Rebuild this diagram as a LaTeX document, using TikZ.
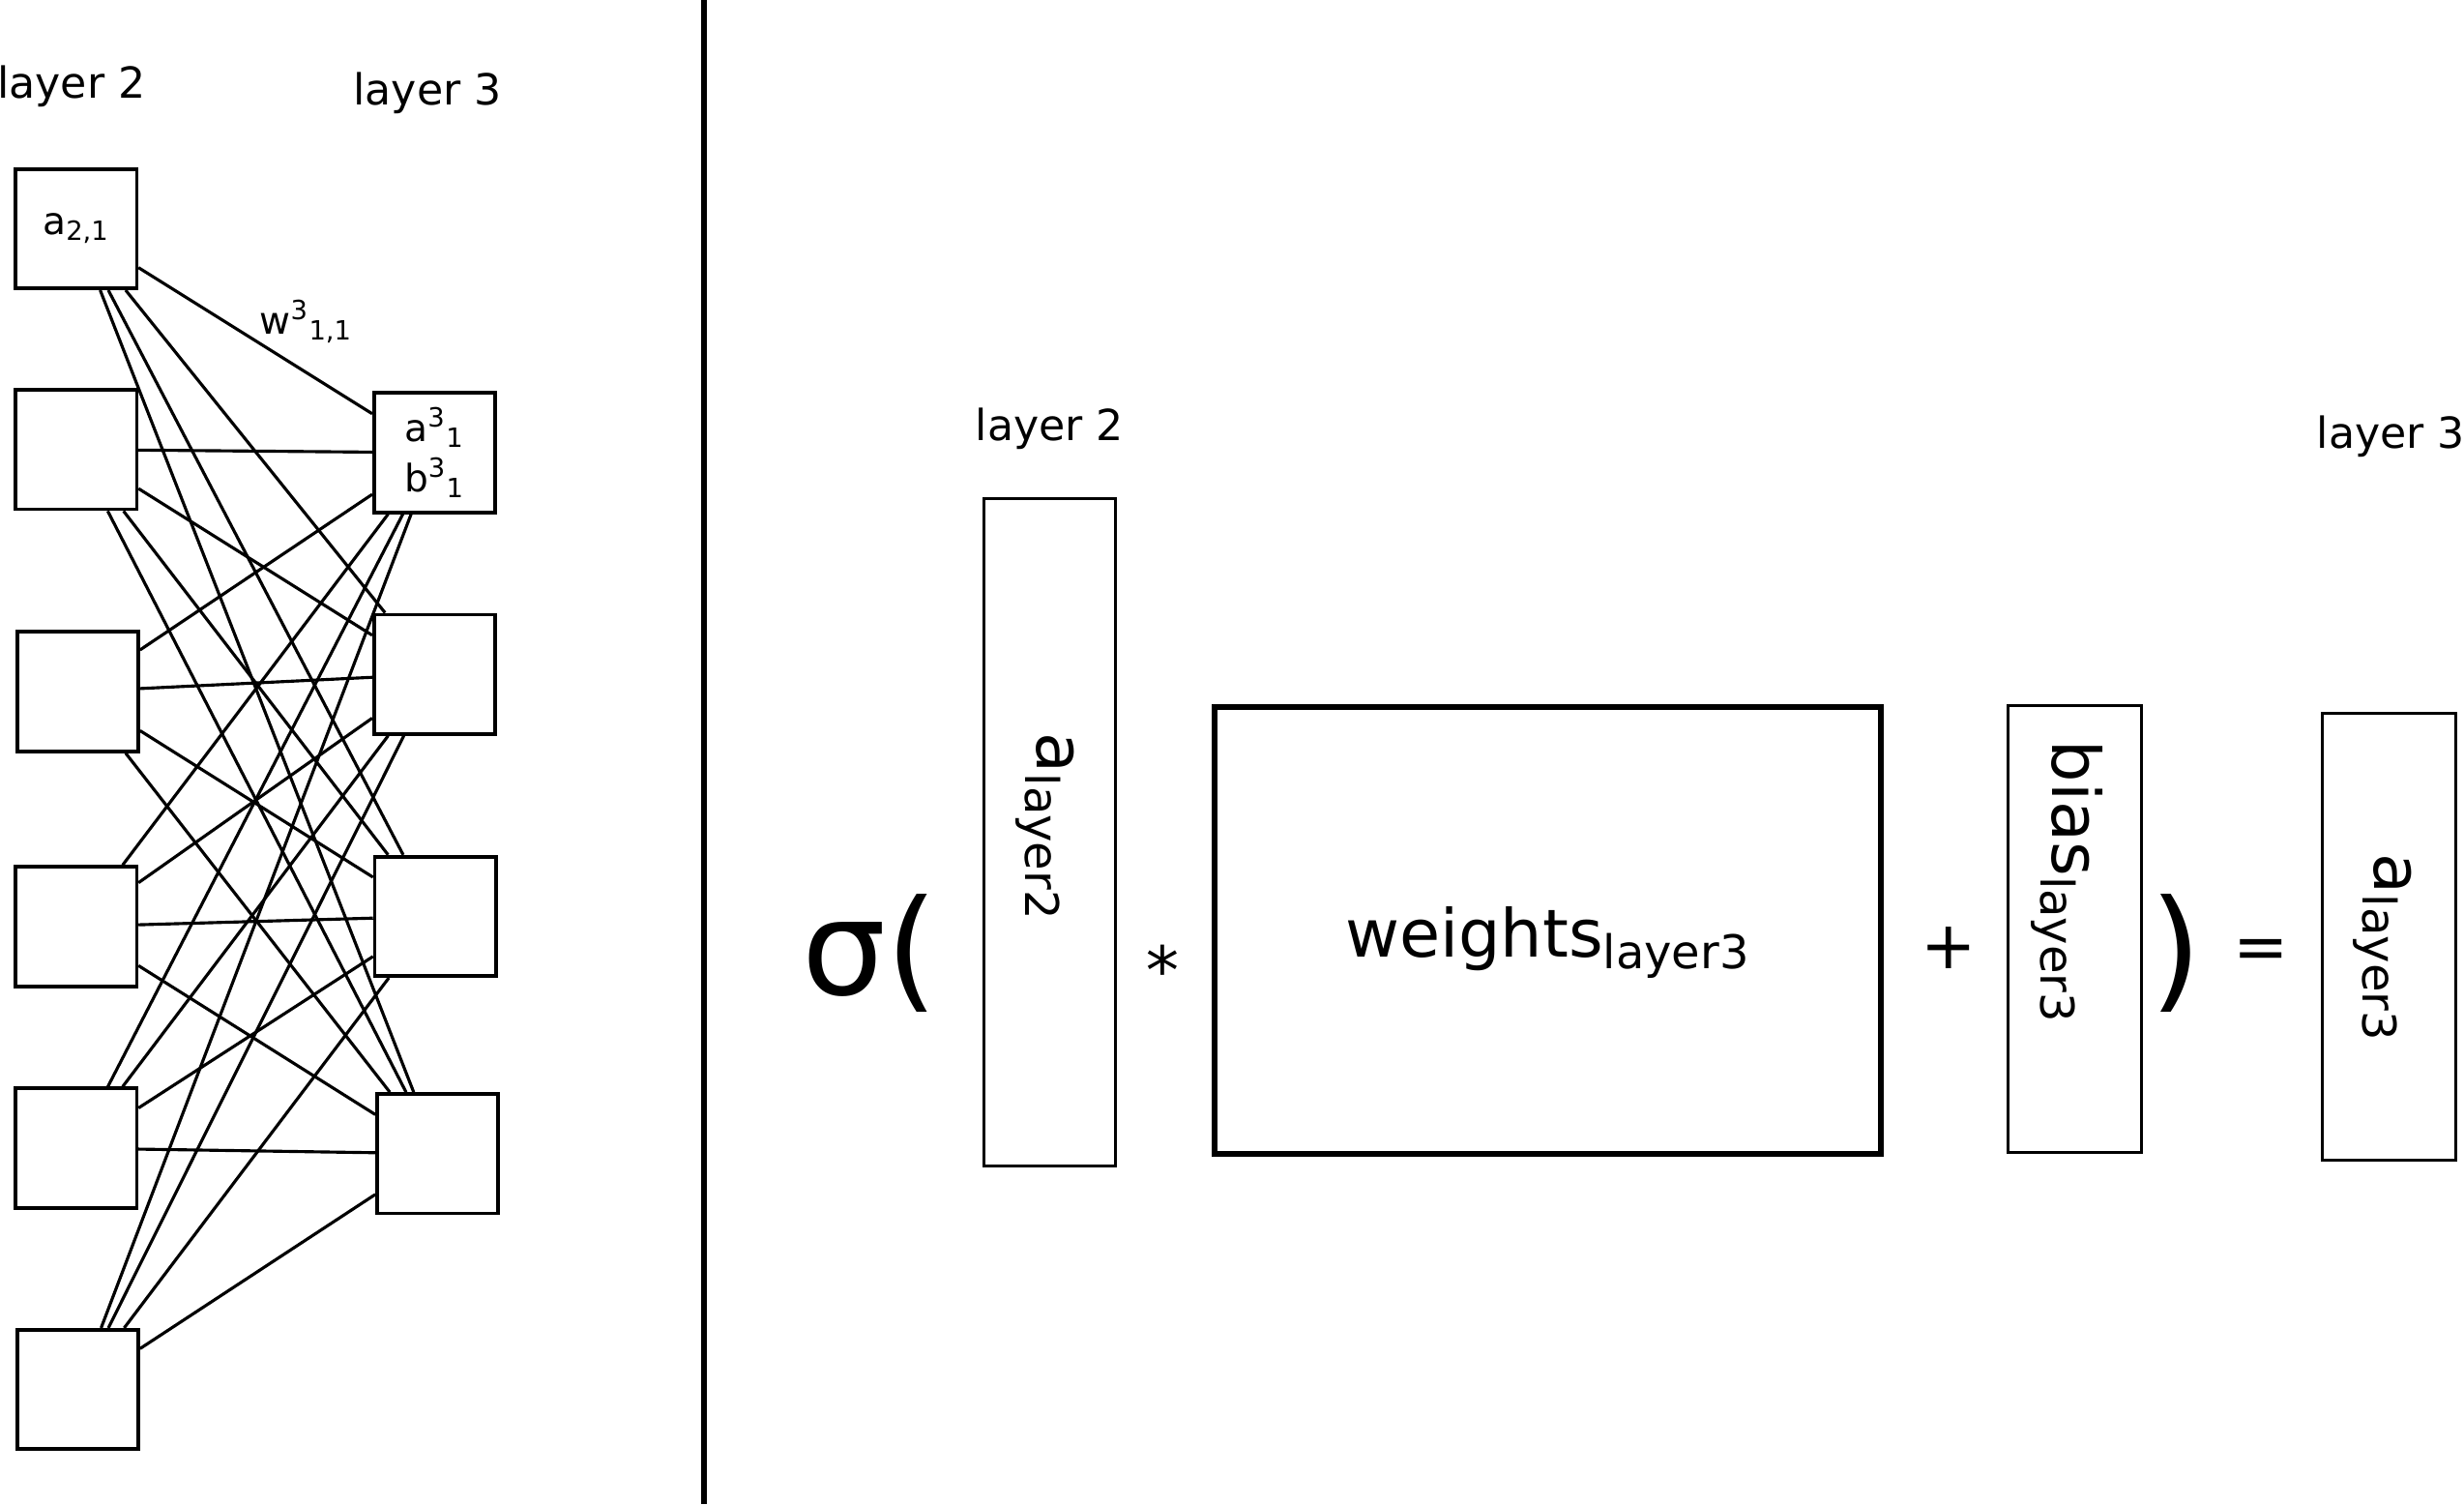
\documentclass[tikz,border=0pt]{standalone}
\usepackage{fontspec}
\setmainfont{DejaVu Sans}

\begin{document}
\begin{tikzpicture}[x=0.02cm,y=-0.02cm,
  unit/.style={draw,line width=1.3pt,minimum width=1.54cm,minimum height=1.52cm,inner sep=0pt,font=\fontsize{13.7}{18.2}\selectfont},
  weight/.style={line width=1.1pt},
  caption/.style={inner sep=0pt,font=\fontsize{15.5}{18}\selectfont},
  vec/.style={draw,line width=1pt,inner sep=0pt,minimum width=1.7cm,minimum height=5.68cm},
  sym/.style={inner sep=0pt,font=\fontsize{24}{28}\selectfont},
  paren/.style={inner sep=0pt,font=\fontsize{48}{56}\selectfont}]
  \def\sub#1{\textsubscript{#1}}
  \def\sup#1{\textsuperscript{#1}}

  \useasboundingbox (0,0) rectangle (1568,957);

  % layer 2 -> layer 3
  \node [unit] (l1) at (48.5,145.5) {a\sub{2,1}};
  \foreach \n/\x/\y in {2/48.5/286,3/49.5/440,4/48.5/589.5,5/48.5/730.5,6/49.5/884}
    \node [unit] (l\n) at (\x,\y) {};

  \node [unit,align=center] (r1) at (276.5,288) {a\sup{3}\sub{1}\\b\sup{3}\sub{1}};
  \foreach \n/\x/\y in {2/276.5/429,3/277/583,4/278.5/734}
    \node [unit] (r\n) at (\x,\y) {};

  \foreach \i in {1,...,6}
    \foreach \j in {1,...,4}
      \draw [weight] (l\i) -- (r\j);

  \node [anchor=base west,inner sep=0pt,font=\fontsize{13.7}{16}\selectfont]
    (w11) at (165,212.5) {w\sup{3}\sub{1,1}};

  \node [caption,anchor=base east] (cap2) at (93,62.5) {layer 2};
  \node [caption,anchor=base] (cap3) at (272,66.5) {layer 3};

  \draw [line width=2.3pt] (448,0) -- (448,957);

  % matrix form
  \node [caption,anchor=base] (veccap2) at (668,280) {layer 2};
  \node [caption,anchor=base west] (veccap3) at (1474,285) {layer 3};

  \node [vec,minimum width=1.68cm,minimum height=8.5cm] (alayer2) at (668,529.5) {};
  \node [vec,line width=2pt,minimum width=8.48cm] (weights) at (985,592) {};
  \node [vec] (bias) at (1320.5,591) {};
  \node [vec] (alayer3) at (1520.5,596) {};

  \node [paren,anchor=west] (sigma) at (510,606.5) {σ(};
  \node [sym,rotate=-90,anchor=base west] (atext2) at (660,466) {a\sub{layer2}};
  \node [sym,rotate=180] (times) at (740,605) {*};
  \node [sym,anchor=base] (wtext) at (985,609) {weights\sub{layer3}};
  \node [sym] (plus) at (1240,603) {+};
  \node [sym,rotate=-90,anchor=base west] (btext) at (1306,471) {bias\sub{layer3}};
  \node [paren] (close) at (1385,606.5) {)};
  \node [sym] (equals) at (1439,607.5) {=};
  \node [sym,rotate=-90,anchor=base west] (atext3) at (1511,543) {a\sub{layer3}};
\end{tikzpicture}
\end{document}
